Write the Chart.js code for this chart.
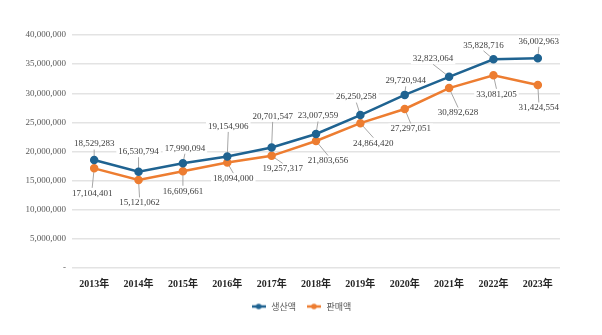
<!DOCTYPE html>
<html>
<head>
<meta charset="utf-8">
<script src="https://cdn.jsdelivr.net/npm/chart.js"></script>
<style>
  html, body { margin: 0; padding: 0; background: #fff; }
</style>
</head>
<body>
<canvas id="myChart" width="602" height="335"></canvas>
<script>
var years = ['2013年','2014年','2015年','2016年','2017年','2018年','2019年','2020年','2021年','2022年','2023年'];
var production = [18529283,16530794,17990094,19154906,20701547,23007959,26250258,29720944,32823064,35828716,36002963];
var sales = [17104401,15121062,16609661,18094000,19257317,21803656,24864420,27297051,30892628,33081205,31424554];
var seriesNames = ['생산액','판매액'];

var blue = '#1f6391';
var orange = '#ed7d31';

// label offsets from each point (px), picked by eye
var labelOffsets = [
  [[0,-16],[0,-20],[2,-15],[1,-30],[1,-31],[2,-18],[-4,-18],[1,-14],[-16,-18],[-10,-14],[1,-17]],
  [[-2,25],[1,23],[0,20],[6,16],[11,13],[12,20],[13,20],[6,20],[9,25],[3,19],[1,23]]
];

function legendMark(color) {
  var c = document.createElement('canvas');
  c.width = 14; c.height = 8;
  var g = c.getContext('2d');
  g.strokeStyle = color; g.lineWidth = 2.5;
  g.beginPath(); g.moveTo(0,4); g.lineTo(14,4); g.stroke();
  g.fillStyle = color;
  g.beginPath(); g.arc(7,4,2.8,0,Math.PI*2); g.fill();
  return c;
}

var valueLabels = {
  id: 'valueLabels',
  boxes: function(chart, opts, cb) {
    var ctx = chart.ctx;
    ctx.font = '9px "Liberation Serif", serif';
    chart.data.datasets.forEach(function(ds, i) {
      var meta = chart.getDatasetMeta(i);
      meta.data.forEach(function(pt, j) {
        var text = ds.data[j].toLocaleString('en-US');
        var w = ctx.measureText(text).width + 4, h = 11;
        var lx = pt.x + opts.offsets[i][j][0], ly = pt.y + opts.offsets[i][j][1];
        cb(ctx, text, pt, lx, ly, w, h);
      });
    });
  },
  beforeDatasetsDraw: function(chart, args, opts) {
    this.boxes(chart, opts, function(ctx, text, pt, lx, ly, w, h) {
      ctx.save();
      ctx.fillStyle = '#fff';
      ctx.fillRect(lx - w/2, ly - h/2, w, h);
      var ey = ly < pt.y ? ly + h/2 : ly - h/2;
      if (Math.abs(ey - pt.y) > 4) {
        ctx.strokeStyle = '#a6a6a6';
        ctx.lineWidth = 1;
        ctx.beginPath(); ctx.moveTo(lx, ey); ctx.lineTo(pt.x, pt.y); ctx.stroke();
      }
      ctx.restore();
    });
  },
  afterDatasetsDraw: function(chart, args, opts) {
    this.boxes(chart, opts, function(ctx, text, pt, lx, ly, w, h) {
      ctx.save();
      ctx.fillStyle = '#404040';
      ctx.textAlign = 'center';
      ctx.textBaseline = 'middle';
      ctx.fillText(text, lx, ly);
      ctx.restore();
    });
  }
};

var ctx = document.getElementById('myChart');
var myChart = new Chart(ctx, {
  type: 'line',
  data: {
    labels: years,
    datasets: [
      {
        label: seriesNames[0],
        data: production,
        borderColor: blue,
        backgroundColor: blue,
        borderWidth: 2.5,
        pointRadius: 3,
        pointHoverRadius: 3
      },
      {
        label: seriesNames[1],
        data: sales,
        borderColor: orange,
        backgroundColor: orange,
        borderWidth: 2.5,
        pointRadius: 3,
        pointHoverRadius: 3
      }
    ]
  },
  options: {
    responsive: false,
    animation: false,
    layout: { padding: { left: 0, right: 0, top: 35, bottom: 14 } },
    scales: {
      x: {
        offset: true,
        grid: { display: false },
        border: { display: false },
        ticks: {
          color: '#262626',
          font: { family: '"Liberation Serif", "Noto Sans CJK KR", serif', size: 10, weight: 'bold' },
          padding: 2,
          maxRotation: 0
        }
      },
      y: {
        min: 0,
        max: 40000000,
        afterFit: function(scale) { scale.width = 72; },
        grid: { color: '#e3e3e3', lineWidth: 1.5, drawTicks: false },
        border: { display: false },
        ticks: {
          stepSize: 5000000,
          padding: 6,
          color: '#595959',
          font: { family: '"Liberation Serif", serif', size: 9 },
          callback: function(v) { return v === 0 ? '-' : v.toLocaleString('en-US'); }
        }
      },
      yr: {
        position: 'right',
        afterFit: function(scale) { scale.width = 42; },
        grid: { display: false },
        border: { display: false },
        ticks: { display: false }
      }
    },
    plugins: {
      legend: {
        position: 'bottom',
        labels: {
          usePointStyle: true,
          pointStyleWidth: 16,
          color: '#595959',
          font: { family: '"Noto Sans CJK KR", sans-serif', size: 9 },
          boxHeight: 8,
          padding: 10,
          generateLabels: function(chart) {
            return chart.data.datasets.map(function(ds, i) {
              return {
                text: ds.label,
                pointStyle: legendMark(ds.borderColor),
                fillStyle: ds.borderColor,
                strokeStyle: ds.borderColor,
                fontColor: '#595959',
                lineWidth: 0,
                datasetIndex: i
              };
            });
          }
        }
      },
      tooltip: { enabled: false },
      valueLabels: { offsets: labelOffsets }
    }
  },
  plugins: [valueLabels]
});
</script>
</body>
</html>
